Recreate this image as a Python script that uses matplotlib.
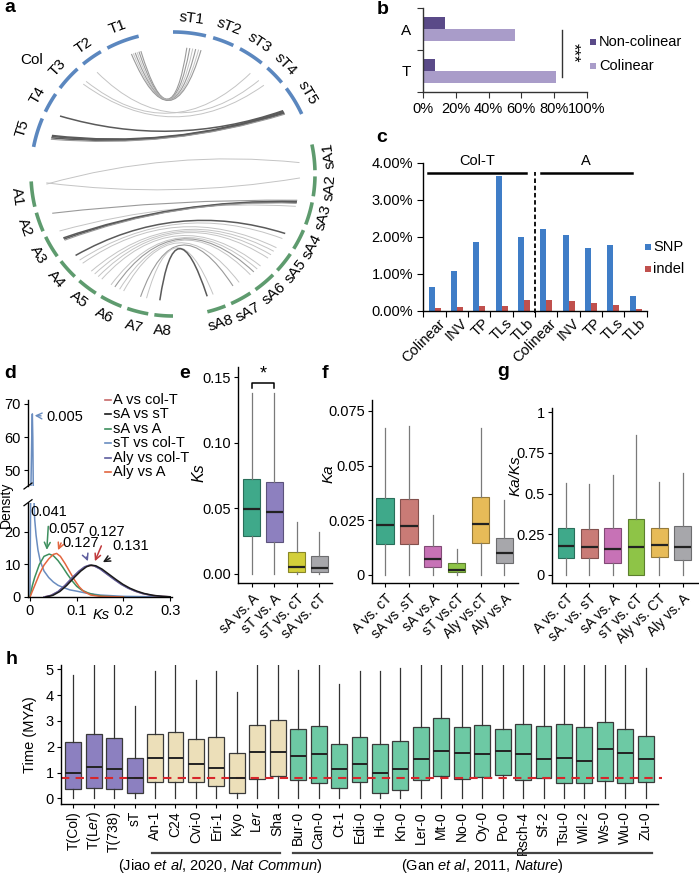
import numpy as np
import matplotlib
matplotlib.use('Agg')
import matplotlib.pyplot as plt
import matplotlib.colors as mcolors
from matplotlib.path import Path
from matplotlib.patches import PathPatch, Rectangle
from matplotlib.lines import Line2D

plt.rcParams['font.family'] = ['Liberation Sans', 'DejaVu Sans']
plt.rcParams['mathtext.fontset'] = 'custom'
plt.rcParams['mathtext.rm'] = 'Liberation Sans'
plt.rcParams['mathtext.it'] = 'Liberation Sans:italic'
plt.rcParams['mathtext.bf'] = 'Liberation Sans:bold'
plt.rcParams['axes.linewidth'] = 1.0

# ------------------------------------------------------------------ data
# panel a : chromosome lengths (Mb) and synteny links
t_names = ['T1', 'T2', 'T3', 'T4', 'T5']
t_len = [30.4, 19.7, 23.5, 18.6, 27.0]
st_names = ['sT1', 'sT2', 'sT3', 'sT4', 'sT5']
st_len = [30.0, 19.5, 23.5, 18.5, 27.0]
a_names = ['A1', 'A2', 'A3', 'A4', 'A5', 'A6', 'A7', 'A8']
a_len = [26, 20, 23, 21, 21, 23, 22, 19]
sa_names = ['sA1', 'sA2', 'sA3', 'sA4', 'sA5', 'sA6', 'sA7', 'sA8']
sa_len = [26, 20, 23, 21, 21, 23, 22, 19]
top_links = [
    ('T1', 1.5, 'sT1', 14, 'm'), ('T1', 3.5, 'sT1', 17, 'm'),
    ('T1', 5.5, 'sT1', 20, 'l'), ('T1', 7.5, 'sT1', 23, 'm'),
    ('T1', 9.5, 'sT1', 26, 'l'), ('T1', 11.5, 'sT1', 28.5, 'm'),
    ('T2', 14, 'sT4', 2, 'l'), ('T3', 2, 'sT3', 21, 'l'),
    ('T3', 6, 'sT4', 9, 'l'), ('T4', 16, 'sT5', 16, 'd'),
    ('T5', 12, 'sT5', 17, 'd'), ('T5', 13, 'sT5', 18, 'd'),
    ('T5', 14.5, 'sT5', 19, 'd'), ('T5', 16, 'sT5', 20, 'm'),
]
bot_links = [
    ('A1', 2.5, 'sA2', 2, 'l'), ('A1', 4, 'sA1', 17, 'l'),
    ('A2', 5.5, 'sA3', 1, 'm'), ('A3', 1, 'sA3', 8, 'l'),
    ('A3', 10, 'sA3', 2.5, 'd'), ('A3', 11.5, 'sA3', 3.5, 'd'),
    ('A3', 13, 'sA3', 4.5, 'm'), ('A4', 5, 'sA4', 11.5, 'd'),
    ('A4', 12, 'sA4', 18, 'l'), ('A4', 17, 'sA5', 3, 'l'),
    ('A5', 3, 'sA5', 8, 'l'), ('A5', 8, 'sA5', 13, 'l'),
    ('A5', 13, 'sA5', 18, 'l'), ('A5', 18, 'sA6', 3, 'l'),
    ('A6', 3, 'sA6', 8, 'l'), ('A6', 8, 'sA6', 13, 'm'),
    ('A6', 14, 'sA6', 18, 'l'), ('A6', 19, 'sA7', 4, 'l'),
    ('A7', 10, 'sA7', 12, 'm'), ('A7', 17, 'sA8', 8, 'l'),
    ('A8', 4, 'sA8', 15, 'd'),
]

# panel b
b_cats = ['T', 'A']
b_noncol = [7.3, 13.4]
b_col = [81.5, 56.0]

# panel c
c_cats = ['Colinear', 'INV', 'TP', 'TLs', 'TLb', 'Colinear', 'INV', 'TP', 'TLs', 'TLb']
c_snp = [0.65, 1.08, 1.85, 3.65, 1.99, 2.20, 2.05, 1.70, 1.77, 0.40]
c_indel = [0.08, 0.09, 0.12, 0.13, 0.28, 0.30, 0.25, 0.20, 0.15, 0.05]

# panel d : Ks density curves
d_blue_x = [0.0, 0.002, 0.004, 0.005, 0.006, 0.007, 0.008, 0.010, 0.013, 0.017, 0.022, 0.030,
            0.040, 0.050, 0.060, 0.070, 0.085, 0.100, 0.120, 0.150, 0.200, 0.300]
d_blue_y = [0, 45, 62, 67, 60, 45, 32, 24, 19, 14.5, 11, 8, 6, 4.6, 3.6, 3.0, 2.2, 1.8, 1.2, 0.6, 0.2, 0]
d_green_x = [0, 0.005, 0.01, 0.02, 0.03, 0.041, 0.05, 0.06, 0.07, 0.08, 0.09, 0.1, 0.11,
             0.125, 0.14, 0.16, 0.2]
d_green_y = [0, 3.5, 6, 10, 12.5, 13.2, 12.7, 11.2, 9.2, 7.0, 5.0, 3.3, 2.2, 1.2, 0.6, 0.2, 0]
d_orange_x = [0, 0.01, 0.02, 0.03, 0.04, 0.05, 0.057, 0.065, 0.075, 0.085, 0.095, 0.105,
              0.115, 0.13, 0.15, 0.2]
d_orange_y = [0, 3.5, 7, 9.8, 11.7, 13.1, 13.4, 12.5, 10.3, 7.8, 5.3, 3.2, 1.7, 0.6, 0.2, 0]
d_purple_x = [0.03, 0.045, 0.06, 0.075, 0.09, 0.105, 0.117, 0.127, 0.137, 0.15, 0.165, 0.18,
              0.195, 0.21, 0.225, 0.24, 0.26, 0.28, 0.3]
d_purple_y = [0, 0.5, 1.7, 3.6, 5.9, 8.0, 9.3, 9.8, 9.6, 8.6, 7.0, 5.4, 3.9, 2.7, 1.8, 1.1, 0.5, 0.2, 0.05]
d_red_x = [0.03, 0.045, 0.06, 0.075, 0.09, 0.105, 0.117, 0.127, 0.137, 0.15, 0.165, 0.18,
           0.195, 0.21, 0.225, 0.24, 0.26, 0.28, 0.3]
d_red_y = [0, 0.5, 1.6, 3.5, 5.8, 7.9, 9.2, 9.7, 9.6, 8.7, 7.1, 5.5, 4.0, 2.8, 1.8, 1.1, 0.5, 0.2, 0.05]
d_black_x = [0.034, 0.049, 0.064, 0.079, 0.094, 0.109, 0.121, 0.131, 0.141, 0.154, 0.169, 0.184,
             0.199, 0.214, 0.229, 0.244, 0.264, 0.284, 0.3]
d_black_y = [0, 0.5, 1.7, 3.6, 5.9, 8.0, 9.3, 9.8, 9.6, 8.6, 7.0, 5.4, 3.9, 2.7, 1.8, 1.1, 0.5, 0.2, 0.08]
d_legend = ['A vs col-T', 'sA vs sT', 'sA vs A', 'sT vs col-T', 'Aly vs col-T', 'Aly vs A']

# panel e : Ks boxplots
e_cats = ['sA vs. A', 'sT vs. A', 'sT vs. cT', 'sA vs. cT']
e_q1 = [0.0292, 0.0247, 0.0015, 0.0018]
e_med = [0.0494, 0.0470, 0.0056, 0.0043]
e_q3 = [0.0723, 0.0700, 0.0170, 0.0140]
e_lo = [0.0, 0.0, 0.0, 0.0]
e_hi = [0.138, 0.138, 0.040, 0.032]

# panel f : Ka boxplots
f_cats = ['A vs. cT', 'sA vs .sT', 'sA vs.A', 'sT vs.cT', 'Aly vs.cT', 'Aly vs.A']
f_q1 = [0.0141, 0.0140, 0.0038, 0.0012, 0.0145, 0.0056]
f_med = [0.0229, 0.0226, 0.0073, 0.0024, 0.0235, 0.0102]
f_q3 = [0.0352, 0.0349, 0.0133, 0.0054, 0.0356, 0.0171]
f_lo = [0, 0, 0, 0, 0, 0]
f_hi = [0.067, 0.068, 0.0275, 0.0118, 0.067, 0.0344]

# panel g : Ka/Ks boxplots
g_cats = ['A vs. cT', 'sA. vs. sT', 'sA vs. A', 'sT vs. cT', 'Aly vs. CT', 'Aly vs. A']
g_q1 = [0.106, 0.106, 0.072, 0.0, 0.110, 0.092]
g_med = [0.180, 0.174, 0.158, 0.170, 0.184, 0.174]
g_q3 = [0.290, 0.282, 0.290, 0.345, 0.290, 0.302]
g_lo = [0, 0, 0, 0, 0, 0]
g_hi = [0.566, 0.556, 0.613, 0.859, 0.569, 0.624]

# panel h : divergence time boxplots
h_cats = ['T(Col)', r'T(L$\it{er}$)', 'T(738)', 'sT', 'An-1', 'C24', 'Cvi-0', 'Eri-1', 'Kyo',
          r'L$\it{er}$', 'Sha', 'Bur-0', 'Can-0', 'Ct-1', 'Edi-0', 'Hi-0', 'Kn-0', 'Ler-0', 'Mt-0',
          'No-0', 'Oy-0', 'Po-0', 'Rsch-4', 'Sf-2', 'Tsu-0', 'Wil-2', 'Ws-0', 'Wu-0', 'Zu-0']
h_group = ['T'] * 4 + ['J'] * 7 + ['G'] * 18
h_q1 = [0.35, 0.39, 0.35, 0.19, 0.64, 0.62, 0.62, 0.48, 0.22, 0.75, 0.88, 0.71, 0.58, 0.40,
        0.64, 0.22, 0.32, 0.71, 0.86, 0.74, 0.84, 0.89, 0.71, 0.80, 0.60, 0.58, 0.66, 0.60, 0.62]
h_med = [0.99, 1.22, 1.13, 0.775, 1.55, 1.55, 1.33, 1.17, 0.78, 1.81, 1.80, 1.65, 1.70, 1.12,
         1.33, 0.97, 1.12, 1.51, 1.85, 1.77, 1.72, 1.85, 1.70, 1.51, 1.55, 1.46, 1.90, 1.77, 1.51]
h_q3 = [2.17, 2.48, 2.33, 1.57, 2.48, 2.56, 2.29, 2.36, 1.77, 2.85, 3.02, 2.68, 2.80, 2.10,
        2.39, 2.12, 2.22, 2.78, 3.10, 2.78, 2.85, 2.70, 2.87, 2.80, 2.87, 2.75, 2.96, 2.70, 2.43]
h_lo = [0.0] * 29
h_hi = [4.78, 5.5, 5.5, 3.58, 4.95, 5.5, 4.6, 4.95, 4.13, 5.5, 5.5, 4.97, 5.5, 4.43, 4.95, 4.95,
        5.04, 5.5, 5.5, 5.5, 5.5, 5.5, 5.5, 5.5, 5.5, 5.5, 5.5, 5.5, 5.04]
h_cutoff = 0.775

# ------------------------------------------------------------------ figure
W, H = 699, 875
fig = plt.figure(figsize=(W / 100, H / 100), dpi=100)


def ax_px(l, t, r, b):
    return fig.add_axes([l / W, 1 - b / H, (r - l) / W, (b - t) / H])


def ftext(x, y, s, **kw):
    return fig.text(x / W, 1 - y / H, s, **kw)


def panel_label(x, y, s):
    ftext(x, y, s, fontsize=14, fontweight='bold', ha='center', va='center')


def fsquare(x, y, size, color):
    fig.add_artist(Rectangle(((x - size / 2) / W, 1 - (y + size / 2) / H), size / W, size / H,
                             transform=fig.transFigure, facecolor=color, edgecolor='none'))


def fline(x0, x1, y, color, lw=1.0):
    fig.add_artist(Line2D([x0 / W, x1 / W], [1 - y / H, 1 - y / H], transform=fig.transFigure,
                          color=color, lw=lw))


# ------------------------------------------------------------------ panel a
axa = ax_px(0, 0, 360, 345)
axa.set_xlim(0, 360)
axa.set_ylim(345, 0)
axa.axis('off')
CX, CY, R, RL, RT = 173, 174, 142, 127, 157
blue_c, green_c = '#5b87bf', '#5e9b6e'


def layout(names, lengths, a0, a1, gap):
    n = len(lengths)
    span = abs(a1 - a0) - gap * (n - 1)
    sc = span / sum(lengths)
    sgn = 1 if a1 > a0 else -1
    out = {}
    cur = a0
    for nm, ln in zip(names, lengths):
        out[nm] = (cur, sgn * sc)
        cur = cur + sgn * (ln * sc + gap)
    return out, dict(zip(names, lengths))


groups = [
    (t_names, t_len, 104, 169, 3.0, blue_c, 'up'),
    (st_names, st_len, 90, 25, 3.0, blue_c, 'up'),
    (a_names, a_len, 183, 270, 2.5, green_c, 'down'),
    (sa_names, sa_len, 12, -76, 2.5, green_c, 'down'),
]
chrom_pos = {}
for names, lens, a0, a1, gap, col, side in groups:
    lay, lmap = layout(names, lens, a0, a1, gap)
    for nm in names:
        start, sc = lay[nm]
        chrom_pos[nm] = (start, sc)
        th = np.radians(np.linspace(start, start + sc * lmap[nm], 60))
        axa.plot(CX + R * np.cos(th), CY - R * np.sin(th), color=col, lw=2.6,
                 solid_capstyle='butt')
        mid = start + sc * lmap[nm] / 2
        rot = mid - 90 if side == 'up' else mid + 90
        rot = (rot + 180) % 360 - 180
        m = np.radians(mid)
        axa.text(CX + RT * np.cos(m), CY - RT * np.sin(m), nm, rotation=rot, fontsize=11,
                 ha='center', va='center', rotation_mode='anchor')

axa.text(32, 60, 'Col', fontsize=11, ha='center', va='center')

shade = {'l': ('#c4c4c4', 0.7), 'm': ('#9a9a9a', 0.8), 'd': ('#5a5a5a', 1.1)}


def draw_link(c1, p1, c2, p2, s):
    s1, k1 = chrom_pos[c1]
    s2, k2 = chrom_pos[c2]
    t1 = np.radians(s1 + k1 * p1)
    t2 = np.radians(s2 + k2 * p2)
    P0 = (CX + RL * np.cos(t1), CY - RL * np.sin(t1))
    P2 = (CX + RL * np.cos(t2), CY - RL * np.sin(t2))
    v = np.array([np.cos(t1) + np.cos(t2), -(np.sin(t1) + np.sin(t2))])
    v = v / np.linalg.norm(v)
    C = (CX + 25 * v[0], CY + 25 * v[1])
    col, lw = shade[s]
    path = Path([P0, C, P2], [Path.MOVETO, Path.CURVE3, Path.CURVE3])
    axa.add_patch(PathPatch(path, facecolor='none', edgecolor=col, lw=lw))


for lk in top_links + bot_links:
    draw_link(*lk)

panel_label(10, 8, 'a')

# ------------------------------------------------------------------ panel b
axb = ax_px(423.3, 8.3, 586.7, 91.7)
yb = np.arange(len(b_cats)) + 0.5
axb.barh(yb + 0.14, b_noncol, height=0.28, color='#5a4a88')
axb.barh(yb - 0.14, b_col, height=0.28, color='#a99cc9')
axb.set_xlim(0, 100)
axb.set_ylim(0, 2)
axb.set_xticks(np.arange(0, 101, 20))
axb.set_xticklabels(['%d%%' % v for v in range(0, 101, 20)], fontsize=10.5)
axb.set_yticks([0, 1, 2])
axb.set_yticklabels([])
axb.set_yticks(yb, minor=True)
axb.set_yticklabels(b_cats, minor=True, fontsize=11)
axb.tick_params(axis='y', which='minor', length=0, pad=9)
axb.tick_params(axis='both', which='major', length=4, color='#333333')
for sp in ['top', 'right']:
    axb.spines[sp].set_visible(False)
for sp in ['left', 'bottom']:
    axb.spines[sp].set_color('#333333')
axb.plot([84.7, 84.7], [0.36, 1.48], color='#333333', lw=1, clip_on=False)
axb.text(91.5, 0.93, '***', rotation=270, fontsize=12, ha='center', va='center', clip_on=False)
fsquare(593, 42, 6.5, '#5a4a88')
fsquare(593, 66, 6.5, '#a99cc9')
ftext(599, 42, 'Non-colinear', fontsize=10.5, va='center')
ftext(599, 66, 'Colinear', fontsize=10.5, va='center')
panel_label(383, 9, 'b')

# ------------------------------------------------------------------ panel c
axc = ax_px(423.3, 162.7, 646.7, 310.7)
xc = np.arange(len(c_cats))
axc.bar(xc - 0.13, c_snp, width=0.27, color='#3f7dc7')
axc.bar(xc + 0.14, c_indel, width=0.27, color='#c0504d')
axc.set_xlim(-0.5, len(c_cats) - 0.5)
axc.set_ylim(0, 4)
axc.set_yticks(np.arange(0, 4.01, 1))
axc.set_yticklabels(['%.2f%%' % v for v in np.arange(0, 4.01, 1)], fontsize=10.5)
axc.set_xticks(np.arange(-0.5, len(c_cats), 1))
axc.set_xticklabels([])
axc.set_xticks(xc + 0.15, minor=True)
axc.set_xticklabels(c_cats, minor=True, rotation=45, ha='right', va='top',
                    rotation_mode='anchor', fontsize=10.5)
axc.tick_params(axis='x', which='minor', length=0, pad=4)
axc.tick_params(axis='both', which='major', length=4)
for sp in ['top', 'right']:
    axc.spines[sp].set_visible(False)
axc.plot([4.5, 4.5], [-0.06, 3.76], color='k', lw=1.3, ls=(0, (2.5, 1.5)), clip_on=False)
axc.plot([-0.27, 4.1], [3.73, 3.73], color='k', lw=1.8, clip_on=False)
axc.plot([4.76, 8.83], [3.73, 3.73], color='k', lw=1.8, clip_on=False)
axc.text(1.89, 4.05, 'Col-T', fontsize=10.5, ha='center', va='center', clip_on=False)
axc.text(6.79, 4.05, 'A', fontsize=10.5, ha='center', va='center', clip_on=False)
fsquare(648, 247.3, 6, '#3f7dc7')
fsquare(648, 269.3, 6, '#c0504d')
ftext(653, 247.3, 'SNP', fontsize=10.5, va='center')
ftext(653, 269.3, 'indel', fontsize=10.5, va='center')
panel_label(382, 138, 'c')

# ------------------------------------------------------------------ panel d
col_red, col_black, col_green = '#c76a6a', '#1a1a1a', '#3d8f5e'
col_blue, col_purple, col_orange = '#6a8dc0', '#5e5e9e', '#e2663f'
curves = [
    (d_blue_x, d_blue_y, col_blue),
    (d_green_x, d_green_y, col_green),
    (d_orange_x, d_orange_y, col_orange),
    (d_red_x, d_red_y, col_red),
    (d_purple_x, d_purple_y, col_purple),
    (d_black_x, d_black_y, col_black),
]
x0px, pxu = 30.0, 467.0
axd_lo = ax_px(28, 502.7, 172, 597)
axd_hi = ax_px(28, 400, 172, 486)
for axd in (axd_lo, axd_hi):
    for xs, ys, c in curves:
        axd.plot(xs, ys, color=c, lw=1.1)
    axd.set_xlim(-2 / pxu, 142 / pxu)
    for sp in ['top', 'right']:
        axd.spines[sp].set_visible(False)
    axd.tick_params(length=3, labelsize=10.5, pad=2)
axd_lo.set_ylim(0, 29)
axd_lo.set_yticks([0, 10, 20])
axd_lo.set_xticks([0, 0.1, 0.2, 0.3])
axd_lo.set_xticklabels(['0', '0.1', '0.2', '0.3'])
axd_hi.set_ylim(45.2, 71.2)
axd_hi.set_yticks([50, 60, 70])
axd_hi.set_xticks([])
axd_hi.spines['bottom'].set_visible(False)
# break marks
for yy in (486, 502.7):
    fig.add_artist(Line2D([24 / W, 32 / W], [1 - (yy + 3) / H, 1 - (yy - 3) / H],
                          transform=fig.transFigure, color='k', lw=0.9))
ftext(5.5, 505, 'Density', rotation=90, fontsize=10, ha='center', va='center')
ftext(101, 615, 'Ks', fontsize=10.5, style='italic', ha='center', va='center')
leg_cols = [col_red, col_black, col_green, col_blue, col_purple, col_orange]
for i, (lab, c) in enumerate(zip(d_legend, leg_cols)):
    yy = 400 + 14.4 * i
    fline(105, 111, yy, c, lw=1.2)
    ftext(113, yy, lab, fontsize=10.5, va='center')
ann = [
    ('0.041', (0.036, 14.5), (0.041, 26), col_green),
    ('0.057', (0.060, 14.4), (0.079, 20.8), col_orange),
    ('0.127', (0.124, 11.0), (0.109, 16.5), col_purple),
    ('0.127', (0.139, 11.0), (0.165, 19.9), '#c0393b'),
    ('0.131', (0.156, 10.7), (0.216, 15.6), col_black),
]
for s, xy, xyt, c in ann:
    axd_lo.annotate(s, xy=xy, xytext=xyt, fontsize=10.5, ha='center', va='center',
                    annotation_clip=False,
                    arrowprops=dict(arrowstyle='->', color=c, lw=1.1, shrinkA=3, shrinkB=0))
axd_hi.annotate('0.005', xy=(0.010, 66.5), xytext=(0.075, 66), fontsize=10.5, ha='center',
                va='center', annotation_clip=False,
                arrowprops=dict(arrowstyle='->', color=col_blue, lw=1.0, shrinkA=2, shrinkB=0))
panel_label(10, 373, 'd')


# ------------------------------------------------------------------ boxplots helper
def darker(c, f=0.65):
    r, g, b = mcolors.to_rgb(c)
    return (r * f, g * f, b * f)


def boxes(ax, q1, med, q3, lo, hi, colors, width, edge=None, wcol='#7a7a7a', mlw=1.6, elw=0.8):
    stats = [dict(q1=a, med=m, q3=b, whislo=l, whishi=h, fliers=[])
             for a, m, b, l, h in zip(q1, med, q3, lo, hi)]
    bp = ax.bxp(stats, positions=np.arange(len(stats)), widths=width, patch_artist=True,
                showcaps=False, showfliers=False,
                whiskerprops=dict(color=wcol, lw=0.9),
                medianprops=dict(color='#222222', lw=mlw))
    for p, c in zip(bp['boxes'], colors):
        p.set_facecolor(c)
        p.set_edgecolor(edge if edge is not None else darker(c))
        p.set_linewidth(elw)
    return bp


def style_box_axes(ax, cats, labelsize=10):
    for sp in ['top', 'right']:
        ax.spines[sp].set_visible(False)
    ax.set_xticks(np.arange(len(cats)))
    ax.set_xticklabels(cats, rotation=45, ha='right', va='top', rotation_mode='anchor',
                       fontsize=labelsize)
    ax.tick_params(axis='x', length=3, pad=3)
    ax.tick_params(axis='y', length=3, labelsize=10.5, pad=2)


# ------------------------------------------------------------------ panel e
axe = ax_px(238.3, 367, 331.7, 583.3)
e_colors = ['#3fa98a', '#8d80bf', '#d3cf3a', '#a7a7ab']
boxes(axe, e_q1, e_med, e_q3, e_lo, e_hi, e_colors, 0.76)
axe.set_xlim(-0.6, 3.56)
axe.set_ylim(-0.0071, 0.158)
axe.set_yticks([0, 0.05, 0.10, 0.15])
axe.set_yticklabels(['0.00', '0.05', '0.10', '0.15'])
style_box_axes(axe, e_cats)
axe.plot([0, 0, 1, 1], [0.142, 0.146, 0.146, 0.142], color='k', lw=1.1, clip_on=False)
axe.text(0.5, 0.1525, '*', fontsize=13, ha='center', va='center', clip_on=False)
ftext(199, 473, 'Ks', rotation=90, fontsize=11.5, style='italic', ha='center', va='center')
panel_label(185, 373, 'e')

# ------------------------------------------------------------------ panel f
axf = ax_px(371.7, 400, 518.3, 583.3)
fg_colors = ['#3fa98a', '#c97b76', '#c772b6', '#8ec447', '#e7bb58', '#a7a7ab']
boxes(axf, f_q1, f_med, f_q3, f_lo, f_hi, fg_colors, 0.72)
axf.set_xlim(-0.56, 5.58)
axf.set_ylim(-0.0038, 0.080)
axf.set_yticks([0, 0.025, 0.05, 0.075])
axf.set_yticklabels(['0', '0.025', '0.05', '0.075'])
style_box_axes(axf, f_cats)
ftext(329, 474, 'Ka', rotation=90, fontsize=11, style='italic', ha='center', va='center')
panel_label(325, 373, 'f')

# ------------------------------------------------------------------ panel g
axg = ax_px(551.7, 408, 698, 583.3)
boxes(axg, g_q1, g_med, g_q3, g_lo, g_hi, fg_colors, 0.72)
axg.set_xlim(-0.61, 5.66)
axg.set_ylim(-0.051, 1.025)
axg.set_yticks([0, 0.25, 0.5, 0.75, 1])
axg.set_yticklabels(['0', '0.25', '0.5', '0.75', '1'])
style_box_axes(axg, g_cats)
ftext(516, 476, 'Ka/Ks', rotation=90, fontsize=11, style='italic', ha='center', va='center')
panel_label(503, 372, 'g')

# ------------------------------------------------------------------ panel h
axh = ax_px(61, 665, 658, 804)
grp_col = {'T': '#8c80c0', 'J': '#ecdfb9', 'G': '#6dc9a4'}
h_colors = [grp_col[g] for g in h_group]
boxes(axh, h_q1, h_med, h_q3, h_lo, h_hi, h_colors, 0.78, edge='#3a3a3a',
      wcol='#333333', mlw=1.4, elw=0.9)
axh.set_xlim(-0.6, 28.6)
axh.set_ylim(-0.22, 5.17)
axh.plot([-0.6, 28.8], [h_cutoff, h_cutoff], color='#d7262b', lw=1.5, ls=(0, (4, 3)),
         clip_on=False)
axh.set_yticks(range(6))
for sp in ['top', 'right']:
    axh.spines[sp].set_visible(False)
axh.set_xticks(np.arange(len(h_cats)))
axh.set_xticklabels(h_cats, rotation=90, fontsize=10, va='top', ha='center')
axh.tick_params(axis='x', length=3, pad=2)
axh.tick_params(axis='y', length=3, labelsize=10.5, pad=2)
ftext(30, 735, 'Time (MYA)', rotation=90, fontsize=10.5, ha='center', va='center')
fline(151.7, 280, 852.7, '#444444', lw=1.6)
fline(293.3, 651.7, 852.7, '#444444', lw=1.6)
ftext(220, 866, r'(Jiao $\it{et\ al}$, 2020, $\it{Nat\ Commun}$)', fontsize=10.5,
      ha='center', va='center')
ftext(482, 866, r'(Gan $\it{et\ al}$, 2011, $\it{Nature}$)', fontsize=10.5,
      ha='center', va='center')
panel_label(12, 660, 'h')

fig.savefig('out.png', dpi=100)
